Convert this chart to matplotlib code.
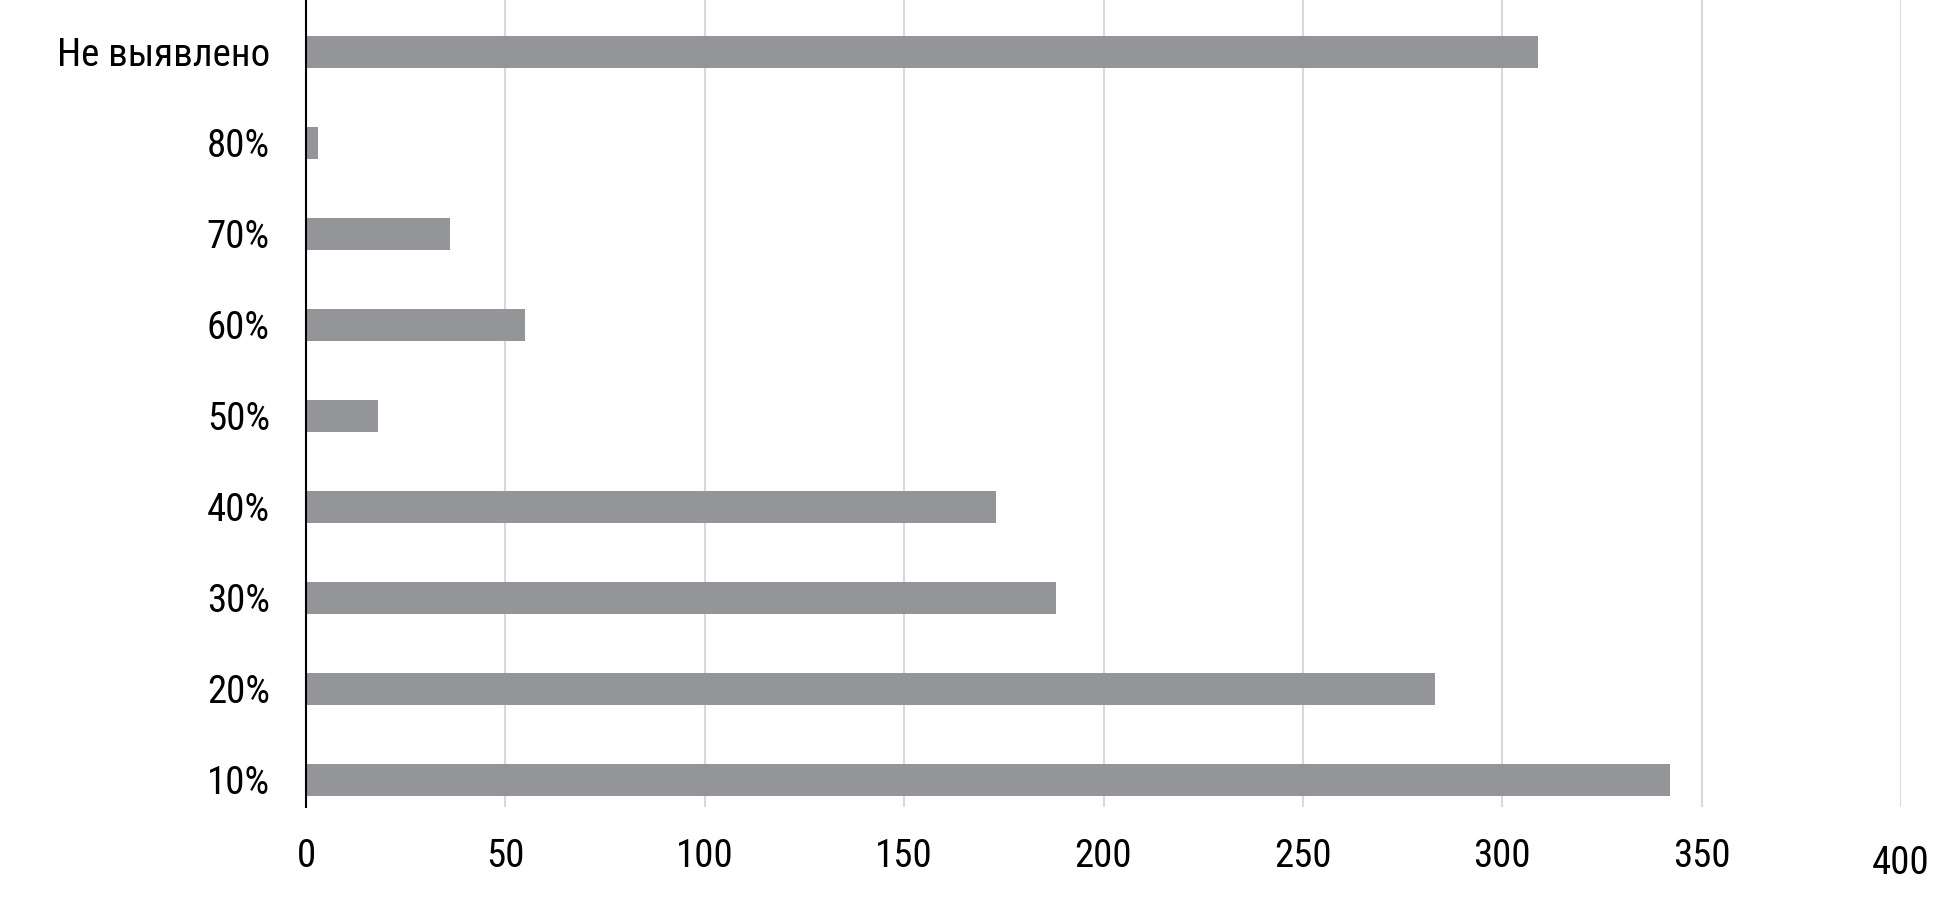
import matplotlib
matplotlib.use('Agg')
import matplotlib.pyplot as plt
from matplotlib.transforms import ScaledTranslation

plt.rcParams['font.family'] = ['Roboto Condensed', 'PT Sans Narrow', 'DejaVu Sans']

categories = ['10%', '20%', '30%', '40%', '50%', '60%', '70%', '80%', 'Не выявлено']
values = [342, 283, 188, 173, 18, 55, 36, 3, 309]
xticks = [0, 50, 100, 150, 200, 250, 300, 350, 400]

fig = plt.figure(figsize=(19.53, 8.97), dpi=100)
ax = fig.add_axes([0.1567, 0.1003, 0.9734 - 0.1567, 0.8997])

ax.barh(range(len(categories)), values, height=0.35, color='#939598', zorder=3)

ax.set_xlim(0, 400)
ax.set_ylim(-0.3, 8.57)
ax.set_yticks(range(len(categories)))
ax.set_yticklabels(categories, fontsize=28)
ax.set_xticks(xticks)
ax.set_xticklabels([str(t) for t in xticks], fontsize=28)
ax.tick_params(axis='both', length=0)
ax.tick_params(axis='x', pad=22)
ax.tick_params(axis='y', pad=26)

ax.grid(axis='x', color='#d9d9d9', linewidth=1.5, zorder=0)
ax.grid(axis='y', visible=False)
for s in ['top', 'right', 'bottom']:
    ax.spines[s].set_visible(False)
ax.spines['left'].set_color('black')
ax.spines['left'].set_linewidth(1.5)
ax.spines['left'].set_zorder(4)

# last tick label sits a bit lower in the original
lab = ax.get_xticklabels()[-1]
lab.set_transform(lab.get_transform() + ScaledTranslation(0, -5 / 72, fig.dpi_scale_trans))

fig.savefig('out.png', dpi=100)
